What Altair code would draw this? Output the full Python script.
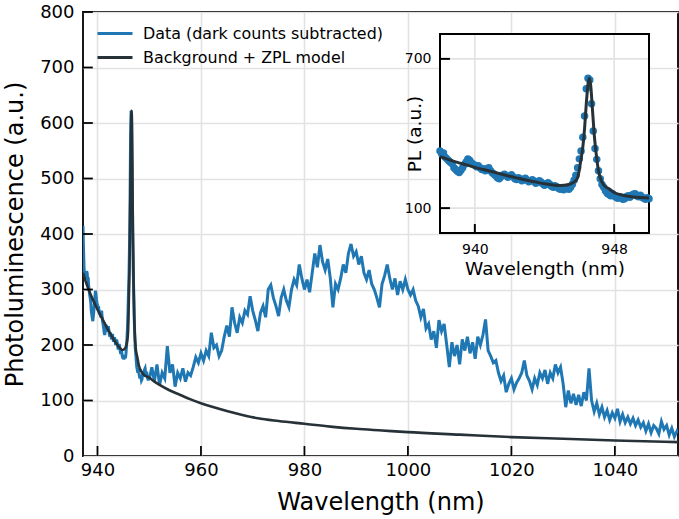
import altair as alt
import pandas as pd

# ---------------- data ----------------
# main spectrum: left edge segment
head_wl = [937.2, 937.3, 937.4, 937.5, 937.6, 937.7, 937.8, 937.9]
head_pl = [415, 372, 340, 325, 332, 318, 326, 333]

# fine segment around the ZPL (also shown in the inset), 0.1 nm grid 938.0 .. 950.0
fine_wl = [round(938.0 + 0.1 * i, 1) for i in range(121)]
fine_pl = [
    330, 318, 322, 305, 298, 290, 284, 278, 262, 255,
    248, 243, 252, 262, 275, 285, 298, 292, 282, 276,
    272, 266, 270, 262, 255, 258, 250, 258, 262, 250,
    242, 236, 230, 222, 218, 226, 232, 236, 230, 224,
    228, 234, 226, 218, 215, 222, 218, 210, 214, 220,
    212, 206, 210, 214, 208, 200, 204, 210, 205, 198,
    192, 196, 202, 196, 188, 184, 190, 186, 180, 176,
    180, 174, 178, 182, 176, 184, 196, 212, 232, 262,
    298, 330, 385, 470, 580, 622, 615, 520, 410, 340,
    296, 250, 218, 195, 184, 170, 160, 155, 150, 158,
    150, 144, 140, 146, 142, 136, 138, 146, 150, 144,
    152, 156, 158, 150, 146, 152, 144, 140, 136, 142,
    138,
]

# coarse segment, 0.5 nm grid 950.5 .. 1052.0, plus right edge
coarse_wl = [round(950.5 + 0.5 * i, 1) for i in range(204)] + [1052.2]
coarse_pl = [
    160, 135, 165, 128, 150, 140, 198, 150, 165, 125,
    150, 140, 158, 134, 150, 145, 160, 178, 168, 185,
    172, 190, 180, 222, 195, 200, 180, 190, 215, 235,
    215, 268, 240, 222, 250, 240, 262, 255, 288, 262,
    245, 225, 258, 270, 250, 300, 308, 285, 270, 252,
    285, 300, 280, 268, 300, 318, 308, 345, 320, 300,
    318, 295, 330, 365, 340, 380, 350, 335, 355, 320,
    268, 310, 300, 320, 345, 330, 365, 382, 360, 368,
    345, 360, 330, 318, 335, 310, 300, 285, 268, 310,
    325, 345, 320, 300, 320, 290, 315, 300, 318, 300,
    290, 300, 280, 270, 250, 265, 230, 238, 210, 225,
    195, 245, 225, 238, 200, 160, 205, 180, 200, 165,
    210, 190, 215, 185, 205, 175, 215, 200, 218, 246,
    190, 180, 168, 172, 150, 135, 145, 115, 130, 140,
    120, 132, 140, 150, 172, 145, 135, 120, 140, 128,
    150, 140, 155, 130, 150, 140, 165, 150, 160, 130,
    88, 118, 95, 112, 92, 110, 90, 115, 100, 158,
    100, 80, 95, 75, 88, 70, 82, 65, 78, 68,
    85, 62, 75, 60, 70, 58, 68, 55, 65, 52,
    60, 45, 58, 42, 55, 50, 40, 62, 48, 55,
    38, 50, 35, 45,
] + [42]

# background + ZPL model curve
model_wl = [937.2, 937.5, 938.0, 938.5, 939.0, 939.5, 940.0, 940.5, 941.0, 941.5,
            942.0, 942.5, 943.0, 943.5, 944.0, 944.4, 944.8, 945.1, 945.4, 945.7,
            945.9, 946.08, 946.2, 946.3, 946.4, 946.5, 946.57, 946.65, 946.75, 946.85,
            947.0, 947.1, 947.2, 947.4, 947.7, 948.0, 948.5, 949.0, 949.8, 950.0,
            951.0, 952.0, 954.0, 956.0, 958.0, 960.0, 962.0, 965.0, 968.0, 971.0,
            975.0, 980.0, 985.0, 990.0, 995.0, 1000.0, 1010.0, 1020.0, 1030.0, 1040.0,
            1052.2]
model_pl = [330, 321, 307, 295, 284, 274, 264, 255, 246, 237,
            228, 220, 212, 205, 198, 194, 191, 192, 195, 205,
            222, 290, 345, 420, 520, 600, 622, 595, 500, 400,
            300, 250, 222, 193, 178, 163, 152, 146, 142, 141,
            134, 128, 118, 110, 102, 95, 89, 81, 74, 68,
            63, 58, 53, 49, 46, 43, 38.5, 34, 31, 28,
            25]

series_names = ["Data (dark counts subtracted)", "Background + ZPL model"]
series_colors = ["#1f77b4", "#263238"]

main_x_ticks = [940, 960, 980, 1000, 1020, 1040]
main_y_ticks = [0, 100, 200, 300, 400, 500, 600, 700, 800]
inset_x_ticks = [940, 948]
inset_y_ticks = [100, 700]

# ---------------- tables ----------------
assert len(fine_wl) == len(fine_pl)
assert len(coarse_wl) == len(coarse_pl)
assert len(model_wl) == len(model_pl)

main_df = pd.DataFrame({"wl": head_wl + fine_wl + coarse_wl,
                        "pl": head_pl + fine_pl + coarse_pl})
main_df["series"] = series_names[0]
model_df = pd.DataFrame({"wl": model_wl, "pl": model_pl})
model_df["series"] = series_names[1]
inset_df = pd.DataFrame({"wl": fine_wl, "pl": fine_pl})
inset_model_df = model_df[(model_df.wl >= 938) & (model_df.wl <= 950)]

MAIN_X = [937.2, 1052.2]
MAIN_Y = [0, 800]
INS_X = [938, 950]
INS_Y = [0, 800]

FONT = "DejaVu Sans"
GRID = "#e2e2e2"

MX = alt.Scale(domain=MAIN_X, nice=False, zero=False)
MY = alt.Scale(domain=MAIN_Y, nice=False, zero=False)
IX = alt.Scale(domain=INS_X, range=[357, 566], nice=False, zero=False)
IY = alt.Scale(domain=INS_Y, range=[221, 22], nice=False, zero=False)


def vbars(xs, half, y0, y1):
    """thin vertical strips (tick marks / grid lines) centred on xs"""
    return pd.DataFrame({"a": [x - half for x in xs], "b": [x + half for x in xs],
                         "c": [y0] * len(xs), "d": [y1] * len(xs)})


def hbars(ys, half, x0, x1):
    """thin horizontal strips centred on ys"""
    return pd.DataFrame({"a": [x0] * len(ys), "b": [x1] * len(ys),
                         "c": [y - half for y in ys], "d": [y + half for y in ys]})


def strips(df, sx, sy, fill):
    return alt.Chart(df).mark_rect(color=fill, strokeWidth=0).encode(
        x=alt.X("a:Q", scale=sx), x2="b:Q",
        y=alt.Y("c:Q", scale=sy), y2="d:Q",
    )


color = alt.Color(
    "series:N",
    scale=alt.Scale(domain=series_names, range=series_colors),
    legend=alt.Legend(
        orient="none", legendX=20.5, legendY=10, title=None,
        symbolType="M-1.75,0H1.75", symbolSize=400, symbolStrokeWidth=3,
        labelFontSize=15.9, labelOffset=16.5, rowPadding=4, padding=0,
        labelColor="black", labelLimit=500, labelFont=FONT,
    ),
)

main_x_axis = alt.Axis(
    values=main_x_ticks, format="d", title="Wavelength (nm)",
    tickSize=0, labelPadding=5, labelFontSize=18, titleFontSize=24,
    grid=True, gridColor=GRID, gridWidth=1.6, domain=False,
    titleY=46, titleBaseline="middle", titleFontWeight="normal",
    labelColor="black", titleColor="black")
main_y_axis = alt.Axis(
    values=main_y_ticks, format="d", title="Photoluminescence (a.u.)",
    tickSize=0, labelPadding=9, labelFontSize=18, titleFontSize=24,
    grid=True, gridColor=GRID, gridWidth=1.6, domain=False,
    titleX=-68, titleBaseline="middle", titleFontWeight="normal",
    labelColor="black", titleColor="black")
inset_x_axis = alt.Axis(
    values=inset_x_ticks, format="d", orient="bottom", offset=-223,
    tickSize=0, title="Wavelength (nm)", labelPadding=9, labelFontSize=14,
    titleFontSize=18.5, titleY=35, titleBaseline="middle", titleFontWeight="normal",
    grid=False, domain=False, labelColor="black", titleColor="black")
inset_y_axis = alt.Axis(
    values=inset_y_ticks, format="d", orient="left", offset=-357,
    tickSize=0, title="PL (a.u.)", labelPadding=9, labelFontSize=14,
    titleFontSize=18.5, titleX=-25.5, titleBaseline="middle", titleFontWeight="normal",
    grid=False, domain=False, labelColor="black", titleColor="black")

# ---------------- main panel ----------------
data_line = alt.Chart(main_df).mark_line(strokeWidth=3, clip=True).encode(
    x=alt.X("wl:Q", scale=MX, axis=main_x_axis),
    y=alt.Y("pl:Q", scale=MY, axis=main_y_axis),
    color=color,
    order=alt.Order("wl:Q"),
)

model_line = alt.Chart(model_df).mark_line(strokeWidth=2.6, clip=True, interpolate="monotone").encode(
    x=alt.X("wl:Q", scale=MX),
    y=alt.Y("pl:Q", scale=MY),
    color=color,
    order=alt.Order("wl:Q"),
)

# inward tick marks, ~10 px long and ~1.8 px wide
mxt = strips(vbars(main_x_ticks, 0.17, MAIN_Y[0], MAIN_Y[0] + 18), MX, MY, "black")
myt = strips(hbars(main_y_ticks[1:], 1.6, MAIN_X[0], MAIN_X[0] + 1.9), MX, MY, "black")

main = alt.layer(data_line, model_line, mxt, myt)

# ---------------- inset ----------------
box = alt.Chart(pd.DataFrame({"bx": [INS_X[0]], "bx2": [INS_X[1]], "by": [INS_Y[0]], "by2": [INS_Y[1]]})).mark_rect(
    fill="white", stroke="black", strokeWidth=2).encode(
    x=alt.X("bx:Q", scale=IX),
    x2="bx2:Q",
    y=alt.Y("by:Q", scale=IY),
    y2="by2:Q",
)
igx = strips(vbars(inset_x_ticks, 0.046, INS_Y[0] + 4, INS_Y[1] - 4), IX, IY, GRID)
igy = strips(hbars(inset_y_ticks, 3.2, INS_X[0] + 0.06, INS_X[1] - 0.06), IX, IY, GRID)
pts = alt.Chart(inset_df).mark_circle(size=56, opacity=1, color="#1f77b4").encode(
    x=alt.X("wl:Q", scale=IX, axis=inset_x_axis),
    y=alt.Y("pl:Q", scale=IY, axis=inset_y_axis),
)
iline = alt.Chart(inset_model_df).mark_line(strokeWidth=3, color="#263238", interpolate="monotone").encode(
    x=alt.X("wl:Q", scale=IX),
    y=alt.Y("pl:Q", scale=IY),
    order=alt.Order("wl:Q"),
)
ixt = strips(vbars(inset_x_ticks, 0.057, INS_Y[0], INS_Y[0] + 36), IX, IY, "black")
iyt = strips(hbars(inset_y_ticks, 4, INS_X[0], INS_X[0] + 0.57), IX, IY, "black")

inset = alt.layer(box, igx, igy, pts, iline, ixt, iyt)

chart = alt.layer(main, inset).resolve_scale(x="independent", y="independent").properties(
    width=595, height=444,
    padding={"left": 83, "top": 12, "right": 1, "bottom": 63},
    autosize=alt.AutoSizeParams(type="none"),
    background="white",
).configure(font=FONT).configure_view(stroke="black", strokeWidth=1.8)

chart.save("out.html", embed_options={"renderer": "svg", "actions": False})
